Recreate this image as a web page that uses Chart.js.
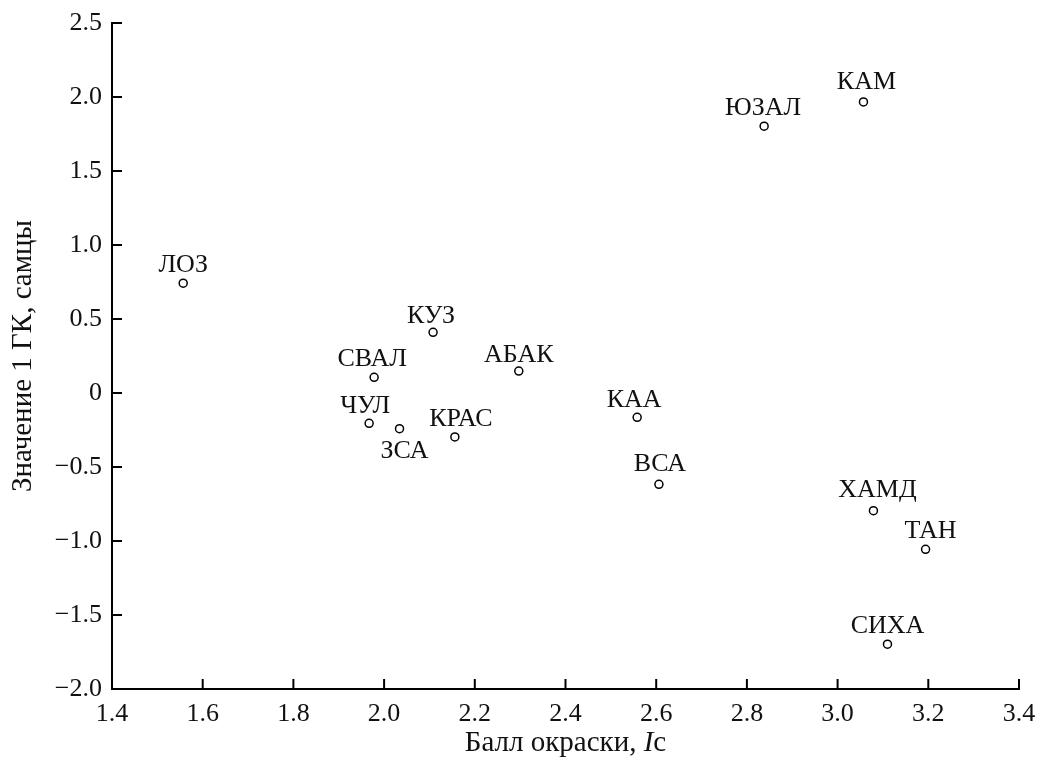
<!DOCTYPE html>
<html>
<head>
<meta charset="utf-8">
<script src="https://cdn.jsdelivr.net/npm/chart.js@4/dist/chart.umd.min.js"></script>
<style>
  html, body { margin: 0; padding: 0; background: #fff; }
  #wrap { width: 1040px; height: 758px; }
</style>
</head>
<body>
<div id="wrap"><canvas id="grafico"></canvas></div>
<script>
const populacoes = ["ЛОЗ", "КУЗ", "СВАЛ", "АБАК", "ЧУЛ", "ЗСА", "КРАС", "КАА", "ВСА", "ЮЗАЛ", "КАМ", "ХАМД", "ТАН", "СИХА"];
const ballOkraski = [1.557, 2.108, 1.978, 2.297, 1.967, 2.034, 2.156, 2.558, 2.606, 2.838, 3.057, 3.079, 3.194, 3.110];
const znachenieGK = [0.742, 0.410, 0.106, 0.148, -0.205, -0.241, -0.297, -0.164, -0.617, 1.803, 1.967, -0.795, -1.056, -1.697];

// label shifts relative to the point (dx, dy of text baseline), px
const sdvig = {
  "ЛОЗ": [0, -11], "КУЗ": [-2, -9], "СВАЛ": [-2, -11], "АБАК": [0, -9],
  "ЧУЛ": [-4, -10], "ЗСА": [5, 29], "КРАС": [6, -11], "КАА": [-3, -10],
  "ВСА": [1, -13], "ЮЗАЛ": [-1, -11], "КАМ": [3, -13], "ХАМД": [4, -14],
  "ТАН": [5, -11], "СИХА": [0, -11]
};

const fonte = "Liberation Serif";
const tamanho = 26;
const tamanhoTitulo = 29;

const pontos = populacoes.map((n, i) => ({ x: ballOkraski[i], y: znachenieGK[i] }));

const menos = (s) => s.replace("-", "\u2212");

const rotulos = {
  id: "rotulos",
  afterDatasetsDraw(chart) {
    const ctx = chart.ctx;
    const meta = chart.getDatasetMeta(0);
    ctx.save();
    ctx.fillStyle = "#111";
    ctx.font = tamanho + "px '" + fonte + "'";
    ctx.textAlign = "center";
    ctx.textBaseline = "alphabetic";
    meta.data.forEach((el, i) => {
      const d = sdvig[populacoes[i]] || [0, -11];
      ctx.fillText(populacoes[i], el.x + d[0], el.y + d[1]);
    });
    ctx.restore();
  },
  afterDraw(chart) {
    const ctx = chart.ctx;
    const { x, y } = chart.scales;
    const area = chart.chartArea;
    ctx.save();
    ctx.strokeStyle = "#000";
    ctx.lineWidth = 2;
    // inward tick marks
    x.ticks.forEach((t) => {
      const px = x.getPixelForValue(t.value);
      ctx.beginPath();
      ctx.moveTo(px, area.bottom);
      ctx.lineTo(px, area.bottom - 10);
      ctx.stroke();
    });
    y.ticks.forEach((t) => {
      const py = y.getPixelForValue(t.value);
      ctx.beginPath();
      ctx.moveTo(area.left, py);
      ctx.lineTo(area.left + 10, py);
      ctx.stroke();
    });
    // x title with italic I
    const partes = [
      ["Балл окраски, ", "normal"],
      ["I", "italic"],
      ["c", "normal"]
    ];
    let largura = 0;
    partes.forEach((p) => {
      ctx.font = p[1] + " " + tamanhoTitulo + "px '" + fonte + "'";
      largura += ctx.measureText(p[0]).width;
    });
    let cx = (area.left + area.right) / 2 - largura / 2;
    ctx.fillStyle = "#111";
    ctx.textAlign = "left";
    ctx.textBaseline = "alphabetic";
    partes.forEach((p) => {
      ctx.font = p[1] + " " + tamanhoTitulo + "px '" + fonte + "'";
      ctx.fillText(p[0], cx, 751);
      cx += ctx.measureText(p[0]).width;
    });
    ctx.restore();
  }
};

const config = {
  type: "scatter",
  data: {
    datasets: [
      {
        label: "самцы",
        data: pontos,
        backgroundColor: "#fff",
        borderColor: "#000",
        borderWidth: 1.5,
        pointRadius: 4,
        pointHoverRadius: 4,
      },
    ],
  },
  options: {
    responsive: true,
    maintainAspectRatio: false,
    animation: false,
    layout: {
      padding: { top: 23, right: 21, left: 0, bottom: 0 },
    },
    plugins: {
      legend: { display: false },
      tooltip: { enabled: false },
    },
    scales: {
      x: {
        type: "linear",
        min: 1.4,
        max: 3.4,
        grid: { display: false, drawTicks: false },
        border: { display: true, color: "#000", width: 2 },
        ticks: {
          stepSize: 0.2,
          padding: 10,
          color: "#111",
          font: { family: fonte, size: tamanho },
          callback: (v) => Number(v).toFixed(1),
        },
        afterFit: (s) => { s.height = 69; s.paddingLeft = 0; s.paddingRight = 0; },
      },
      y: {
        type: "linear",
        min: -2.0,
        max: 2.5,
        grid: { display: false, drawTicks: false },
        border: { display: true, color: "#000", width: 2 },
        title: {
          display: true,
          text: "Значение 1 ГК, самцы",
          color: "#111",
          font: { family: fonte, size: tamanhoTitulo },
          padding: { top: 6, bottom: 0 },
        },
        ticks: {
          stepSize: 0.5,
          padding: 10,
          color: "#111",
          font: { family: fonte, size: tamanho },
          callback: (v) => (v === 0 ? "0" : menos(Number(v).toFixed(1))),
        },
        afterFit: (s) => { s.width = 112; s.paddingTop = 0; s.paddingBottom = 0; },
      },
    },
  },
  plugins: [rotulos],
};

const grafico = new Chart(document.getElementById("grafico"), config);
</script>
</body>
</html>
